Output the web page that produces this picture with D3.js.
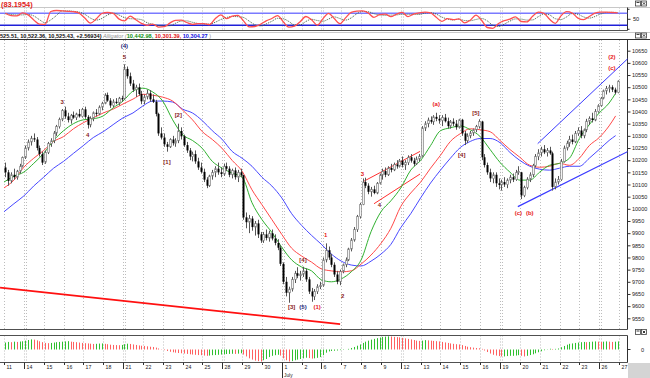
<!DOCTYPE html>
<html><head><meta charset="utf-8">
<script src="https://cdn.jsdelivr.net/npm/d3@7"></script>
<style>
html,body{margin:0;padding:0;background:#fff;overflow:hidden;}
svg{display:block;font-family:"Liberation Sans",Arial,sans-serif;}
</style></head><body>
<svg id="c" width="650" height="378"></svg>
<script>
// ---------------- DATA ----------------
const dayLabels = ["11","14","15","16","17","18","21","22","23","24","25","28","29","30","1","2","6","7","8","9","12","13","14","15","16","19","20","21","22","23","26","27"];
const weekStartIdx = [1,6,11,16,20,25,30];
const monthStartIdx = 14;
const monthLabel = "July";
const priceTicks = [9550,9600,9650,9700,9750,9800,9850,9900,9950,10000,10050,10100,10150,10200,10250,10300,10350,10400,10450,10500,10550,10600,10650];

// hourly bars, 7 per day: [open, high, low, close]
const ohlc = [
// Jun 11
[10170,10190,10130,10150],[10150,10160,10095,10115],[10115,10150,10105,10140],[10140,10165,10120,10130],[10130,10160,10120,10155],[10155,10185,10145,10175],[10175,10215,10170,10211],
// Jun 14
[10212,10260,10205,10250],[10250,10285,10240,10275],[10275,10300,10260,10290],[10290,10310,10275,10285],[10285,10295,10240,10250],[10250,10260,10215,10225],[10225,10235,10180,10190],
// Jun 15
[10192,10240,10185,10232],[10232,10275,10225,10268],[10268,10290,10255,10280],[10280,10320,10270,10312],[10312,10345,10300,10338],[10338,10375,10330,10368],[10368,10410,10360,10405],
// Jun 16
[10405,10420,10370,10380],[10380,10395,10355,10365],[10365,10390,10350,10385],[10385,10400,10370,10375],[10375,10395,10365,10390],[10390,10410,10375,10380],[10380,10415,10375,10409],
// Jun 17
[10409,10420,10370,10378],[10378,10385,10330,10345],[10345,10380,10335,10372],[10372,10400,10360,10395],[10395,10410,10380,10390],[10390,10425,10385,10418],[10418,10440,10405,10434],
// Jun 18
[10434,10475,10430,10468],[10468,10478,10440,10445],[10445,10455,10415,10425],[10425,10450,10418,10440],[10440,10455,10430,10435],[10435,10460,10425,10455],[10455,10465,10440,10450],
// Jun 21
[10452,10594,10450,10575],[10575,10585,10535,10545],[10545,10560,10505,10515],[10515,10530,10480,10490],[10490,10510,10460,10500],[10500,10515,10465,10472],[10472,10485,10430,10442],
// Jun 22
[10442,10470,10430,10460],[10460,10490,10450,10475],[10475,10488,10440,10450],[10450,10470,10435,10440],[10440,10448,10380,10390],[10390,10395,10300,10310],[10310,10335,10285,10293],
// Jun 23
[10293,10310,10255,10265],[10265,10275,10235,10255],[10255,10290,10250,10285],[10285,10300,10260,10270],[10270,10290,10255,10280],[10280,10350,10270,10320],[10320,10335,10285,10298],
// Jun 24
[10298,10305,10255,10262],[10262,10275,10230,10240],[10240,10250,10200,10215],[10215,10235,10195,10225],[10225,10240,10185,10195],[10195,10210,10160,10170],[10170,10190,10145,10152],
// Jun 25
[10152,10165,10110,10120],[10120,10130,10085,10095],[10095,10140,10090,10135],[10135,10160,10120,10150],[10150,10175,10130,10165],[10165,10190,10140,10150],[10150,10170,10130,10143],
// Jun 28
[10143,10185,10135,10175],[10175,10190,10155,10165],[10165,10175,10130,10140],[10140,10165,10125,10158],[10158,10170,10120,10130],[10130,10160,10110,10150],[10150,10165,10130,10138],
// Jun 29
[10138,10140,9955,9965],[9965,9985,9920,9945],[9945,9975,9900,9960],[9960,9970,9910,9925],[9925,9950,9890,9940],[9940,9955,9880,9895],[9895,9905,9860,9870],
// Jun 30
[9870,9905,9860,9895],[9895,9915,9870,9880],[9880,9910,9865,9900],[9900,9915,9870,9878],[9878,9895,9850,9860],[9860,9875,9830,9840],[9840,9850,9765,9774],
// Jul 1
[9774,9780,9690,9700],[9700,9720,9640,9655],[9655,9680,9614,9670],[9670,9720,9660,9710],[9710,9745,9695,9735],[9735,9760,9715,9725],[9725,9745,9705,9732],
// Jul 2
[9732,9762,9720,9745],[9745,9755,9700,9710],[9710,9720,9650,9660],[9660,9675,9618,9640],[9640,9670,9625,9660],[9660,9690,9650,9680],[9680,9700,9670,9686],
// Jul 6
[9686,9800,9680,9790],[9790,9858,9780,9830],[9830,9845,9790,9800],[9800,9815,9760,9770],[9770,9780,9720,9730],[9730,9745,9690,9700],[9700,9750,9686,9743],
// Jul 7
[9743,9775,9735,9770],[9770,9800,9760,9790],[9790,9840,9785,9835],[9835,9880,9825,9872],[9872,9925,9865,9915],[9915,9975,9905,9968],[9968,10025,9960,10018],
// Jul 8
[10018,10125,10015,10110],[10110,10128,10085,10095],[10095,10105,10060,10070],[10070,10090,10050,10080],[10080,10095,10060,10065],[10065,10110,10060,10105],[10105,10145,10100,10139],
// Jul 9
[10139,10165,10120,10155],[10155,10170,10130,10140],[10140,10175,10135,10168],[10168,10185,10150,10160],[10160,10190,10155,10182],[10182,10200,10165,10175],[10175,10205,10170,10198],
// Jul 12
[10198,10215,10170,10180],[10180,10200,10160,10190],[10190,10220,10180,10212],[10212,10225,10190,10198],[10198,10210,10175,10185],[10185,10215,10180,10205],[10205,10225,10195,10216],
// Jul 13
[10216,10340,10212,10332],[10332,10360,10320,10350],[10350,10375,10335,10365],[10365,10380,10350,10358],[10358,10385,10345,10378],[10378,10395,10360,10370],[10370,10385,10350,10363],
// Jul 14
[10363,10385,10340,10375],[10375,10390,10355,10360],[10360,10375,10330,10340],[10340,10365,10330,10358],[10358,10372,10340,10350],[10350,10365,10325,10335],[10335,10370,10330,10366],
// Jul 15
[10366,10370,10300,10310],[10310,10320,10262,10280],[10280,10310,10270,10300],[10300,10320,10290,10312],[10312,10330,10300,10325],[10325,10345,10315,10338],[10338,10368,10330,10359],
// Jul 16
[10359,10362,10200,10212],[10212,10225,10170,10180],[10180,10190,10140,10150],[10150,10165,10110,10125],[10125,10150,10105,10140],[10140,10150,10090,10105],[10105,10125,10080,10098],
// Jul 19
[10098,10120,10075,10110],[10110,10130,10090,10100],[10100,10125,10085,10118],[10118,10140,10105,10130],[10130,10145,10110,10120],[10120,10160,10115,10150],[10150,10175,10140,10154],
// Jul 20
[10150,10152,10040,10055],[10055,10095,10048,10088],[10088,10130,10080,10122],[10122,10150,10110,10140],[10140,10185,10130,10178],[10178,10225,10170,10215],[10215,10245,10200,10230],
// Jul 21
[10230,10255,10215,10245],[10245,10262,10225,10232],[10232,10250,10215,10240],[10240,10255,10222,10228],[10228,10235,10075,10090],[10090,10125,10080,10110],[10110,10135,10100,10120],
// Jul 22
[10120,10205,10115,10195],[10195,10260,10190,10250],[10250,10280,10240,10270],[10270,10300,10255,10285],[10285,10305,10265,10275],[10275,10320,10270,10310],[10310,10335,10300,10322],
// Jul 23
[10322,10340,10290,10300],[10300,10330,10290,10325],[10325,10370,10315,10360],[10360,10380,10345,10372],[10372,10395,10355,10365],[10365,10410,10360,10400],[10400,10430,10395,10424],
// Jul 26
[10424,10460,10420,10455],[10455,10490,10450,10485],[10485,10505,10470,10495],[10495,10510,10478,10500],[10500,10508,10480,10490],[10490,10498,10470,10478],[10478,10528,10475,10525]
];

// Alligator lines, one reading every half day
const jaw = [9988,10021,10053,10094,10130,10167,10195,10228,10260,10293,10317,10346,10374,10394,10423,10443,10443,10439,10410,10394,10362,10321,10285,10236,10208,10175,10130,10094,10045,9980,9932,9891,9854,9814,9785,9769,9765,9785,9814,9854,9923,9980,10045,10106,10159,10208,10252,10277,10289,10289,10272,10232,10199,10175,10163,10159,10167,10175,10175,10208,10244,10281,10301];
const teeth = [10086,10118,10171,10208,10240,10277,10297,10329,10354,10374,10394,10410,10431,10451,10471,10467,10459,10443,10406,10366,10317,10285,10248,10199,10155,10078,10017,9956,9895,9838,9806,9781,9753,9745,9741,9745,9773,9810,9858,9920,10010,10065,10110,10167,10220,10277,10309,10329,10325,10317,10281,10244,10212,10179,10171,10175,10187,10179,10208,10260,10293,10341,10382];
const lips = [10110,10134,10151,10187,10228,10281,10321,10350,10366,10370,10382,10415,10443,10484,10496,10480,10443,10366,10305,10281,10248,10195,10167,10147,10130,10025,9956,9903,9842,9790,9761,9745,9708,9700,9712,9741,9790,9906,9988,10033,10086,10159,10199,10260,10321,10333,10341,10325,10297,10244,10191,10151,10118,10118,10151,10179,10187,10208,10289,10346,10394,10435,10475];

// Stochastic oscillator (top pane), one reading every two bars
const stochK = [80,68,67,82,72,47,26,25,89,94,92,90,88,81,56,31,51,79,84,80,52,42,66,48,30,20,26,11,13,31,45,46,34,25,28,28,23,53,72,53,66,70,42,12,14,25,42,54,68,38,11,16,38,64,48,21,52,80,54,28,57,85,91,92,82,60,73,76,63,76,85,63,76,82,86,82,60,40,53,48,52,32,45,71,45,9,5,29,43,51,62,39,37,65,86,80,50,30,67,88,81,56,48,64,81,86,86,84,82];
const stochD = [78,74,72,72,74,67,48,33,47,69,92,92,90,86,75,56,46,54,71,81,72,58,53,52,48,33,25,19,17,18,30,41,42,35,29,27,26,35,49,59,64,63,59,41,23,17,27,40,55,53,39,22,22,39,50,44,40,51,62,54,46,57,78,89,88,78,72,70,71,72,75,75,75,74,81,83,76,61,51,47,51,44,43,49,54,42,20,14,26,41,52,51,46,47,63,77,72,53,49,62,79,75,62,56,64,77,84,85,84];
const stochLevels = [80, 20];

// Awesome-oscillator histogram (bottom pane), one per bar
const ao = [
55,60,58,62,60,63,65, 70,75,80,78,72,65,58, 52,50,52,55,58,60,62, 64,66,62,60,58,55,52,
50,48,46,44,45,47,48, 45,42,38,36,35,34,36, 42,46,44,40,36,32,30, 28,25,22,20,15,8,2,
-5,-12,-18,-22,-25,-28,-30, -32,-35,-38,-40,-42,-44,-45, -48,-50,-48,-45,-44,-42,-40, -38,-36,-35,-34,-35,-33,-30,
-40,-55,-70,-80,-88,-92,-95, -85,-75,-60,-50,-45,-42,-48, -70,-85,-95,-92,-85,-80,-75, -70,-65,-68,-72,-70,-66,-60,
-45,-25,-15,-12,-10,-8,-5, -3,0,5,12,20,30,40, 52,62,70,78,84,90,95, 100,102,104,103,100,98,96,
92,88,84,80,75,70,68, 70,74,72,70,68,66,64, 60,56,52,48,45,42,40, 35,28,22,18,15,12,10,
5,-8,-20,-32,-42,-48,-52, -55,-55,-52,-50,-50,-48,-45, -50,-55,-50,-44,-38,-30,-22, -14,-6,2,6,4,5,8,
18,28,38,45,48,52,55, 58,60,58,60,62,64,62, 60,62,64,62,60,62,64
];

// Trend lines drawn on the chart: [day-position, price] pairs
const trendRed = [[-0.2, 9676],[16.94, 9526]];
const channelRedUpper = [[18.15, 10114],[20.97, 10236]];
const channelRedLower = [[18.65, 10021],[20.97, 10143]];
const channelBlueUpper = [[26.9, 10268],[31.45, 10618]];
const channelBlueLower = [[25.9, 10009],[31.45, 10236]];

// Wave-count annotations: bar index, price, text, colour group
const waveLabels = [
 {bar:42, price:10669, text:"(4)", c:"navy"},
 {bar:42, price:10624, text:"5", c:"dark"},
 {bar:20, price:10439, text:"3", c:"dark"},
 {bar:29, price:10304, text:"4", c:"dark"},
 {bar:61, price:10386, text:"[2]", c:"dark"},
 {bar:57, price:10193, text:"[1]", c:"dark"},
 {bar:105, price:9790, text:"[4]", c:"dark"},
 {bar:101, price:9597, text:"[3]", c:"dark"},
 {bar:105, price:9597, text:"(5)", c:"navy"},
 {bar:110, price:9597, text:"(1)", c:"red"},
 {bar:113, price:9893, text:"1", c:"red"},
 {bar:119, price:9643, text:"2", c:"dark"},
 {bar:126, price:10143, text:"3", c:"red"},
 {bar:132, price:10016, text:"4", c:"dark"},
 {bar:152, price:10431, text:"(a)", c:"red"},
 {bar:161, price:10222, text:"[4]", c:"dark"},
 {bar:166, price:10394, text:"[5]", c:"dark"},
 {bar:181, price:9983, text:"(c)", c:"red"},
 {bar:185, price:9983, text:"(b)", c:"red"},
 {bar:214, price:10579, text:"(c)", c:"red"},
 {bar:214, price:10624, text:"(2)", c:"red"}
];

const headerQuote = "525.51, 10,522.36, 10,525.43, +2.56934)";
const alligatorVals = ["10,442.98,", "10,301.39,", "10,304.27"];
const stochLabel = "(83.1954)";

// ---------------- DRAWING ----------------
const W = 650, H = 378;
const AXX = 627.5;             // right axis line
const BPD = 7;                 // bars per day
const svg = d3.select("#c");

const x = d3.scaleLinear().domain([0, 31]).range([4, 4 + 31 * 19.84]);
const y = d3.scaleLinear().domain([9550, 10650]).range([318.3, 50.7]);
const yS = d3.scaleLinear().domain([0, 100]).range([29.3, 9.3]);
const yA = d3.scaleLinear().domain([-95, 95]).range([361.5, 337.5]);
const tBar = i => Math.floor(i / BPD) + ((i % BPD) + 0.5) / BPD;
const lastT = tBar(ohlc.length - 1) - 0.1;
const tHalf = i => (i === jaw.length - 1 ? lastT : i * 0.5);

const panes = {
  top:  {y0: 7.5, y1: 31},
  main: {y0: 40, y1: 329},
  ao:   {y0: 335.5, y1: 362}
};
const defs = svg.append("defs");
Object.entries(panes).forEach(([k, p]) => {
  defs.append("clipPath").attr("id", "clip-" + k)
    .append("rect").attr("x", 0).attr("y", p.y0).attr("width", AXX).attr("height", p.y1 - p.y0);
});

// vertical dotted day grid in each pane
Object.entries(panes).forEach(([k, p]) => {
  const g = svg.append("g").attr("clip-path", `url(#clip-${k})`);
  d3.range(0, 32).forEach(d => {
    const xs = [Math.round(x(d)) + 0.5];
    if (weekStartIdx.includes(d) || d === monthStartIdx) xs.push(Math.round(x(d)) + 2.5);
    xs.forEach(xx => g.append("line").attr("x1", xx).attr("x2", xx).attr("y1", p.y0).attr("y2", p.y1)
      .attr("stroke", "#bcbcbc").attr("stroke-width", 1).attr("stroke-dasharray", "1,2"));
  });
});

// pane borders
const hline = (yy, col, x2 = AXX) => svg.append("line").attr("x1", 0).attr("x2", x2).attr("y1", yy).attr("y2", yy).attr("stroke", col).attr("stroke-width", 1);
hline(7.5, "#c8c8c8", W);
hline(30.5, "#505050");
hline(32.5, "#c8c8c8", W);
hline(39.5, "#303030", W);
hline(329.5, "#505050");
hline(335.5, "#505050");
hline(362.5, "#505050");
svg.append("line").attr("x1", AXX).attr("x2", AXX).attr("y1", 7.5).attr("y2", 30.5).attr("stroke", "#303030");
svg.append("line").attr("x1", AXX).attr("x2", AXX).attr("y1", 40).attr("y2", 329.5).attr("stroke", "#303030");
svg.append("line").attr("x1", AXX).attr("x2", AXX).attr("y1", 335.5).attr("y2", 362.5).attr("stroke", "#303030");

// ---------- top pane: stochastic ----------
const gTop = svg.append("g").attr("clip-path", "url(#clip-top)");
gTop.append("line").attr("x1", 0).attr("x2", AXX).attr("y1", yS(stochLevels[0])).attr("y2", yS(stochLevels[0]))
  .attr("stroke", "#7a7aff").attr("stroke-width", 1.6);
gTop.append("line").attr("x1", 0).attr("x2", AXX).attr("y1", yS(stochLevels[1])).attr("y2", yS(stochLevels[1]))
  .attr("stroke", "#2020d8").attr("stroke-width", 1.4);
const sLine = d3.line().x((d, j) => x(tBar(2 * j))).y(d => yS(d)).curve(d3.curveMonotoneX);
gTop.append("path").attr("d", sLine(stochD)).attr("fill", "none").attr("stroke", "#406040").attr("stroke-width", 1).attr("stroke-dasharray", "1,1");
gTop.append("path").attr("d", sLine(stochK)).attr("fill", "none").attr("stroke", "#ff5050").attr("stroke-width", 1.3);
svg.append("text").attr("x", 1).attr("y", 6.5).attr("font-size", 7.4).attr("font-weight", "bold").attr("fill", "#e02020").text(stochLabel);
// stoch axis
svg.append("line").attr("x1", AXX).attr("x2", AXX + 3).attr("y1", yS(50)).attr("y2", yS(50)).attr("stroke", "#303030");
[yS(100), yS(0)].forEach(v => svg.append("line").attr("x1", AXX).attr("x2", AXX + 2).attr("y1", v).attr("y2", v).attr("stroke", "#303030"));
svg.append("text").attr("x", 633).attr("y", yS(50) + 2).attr("font-size", 5.6).attr("fill", "#202020").text("50");

// header
const hdr = svg.append("text").attr("x", 0).attr("y", 37.6).attr("font-size", 5.6).attr("font-weight", "bold");
hdr.append("tspan").attr("fill", "#101010").text(headerQuote + " ");
hdr.append("tspan").attr("fill", "#909090").attr("font-weight", "normal").attr("font-style", "italic").text("Alligator (");
const algCols = ["#109010", "#e01010", "#1010e0"];
alligatorVals.forEach((v, i) => hdr.append("tspan").attr("fill", algCols[i]).text(v + " "));
hdr.append("tspan").attr("fill", "#909090").attr("font-weight", "normal").text(")");

// window buttons
function buttons(yy) {
  const g = svg.append("g").attr("transform", `translate(635,${yy})`);
  g.append("rect").attr("x", 0.5).attr("y", 0.5).attr("width", 5).attr("height", 5).attr("fill", "#fff").attr("stroke", "#404040").attr("stroke-width", 0.8);
  g.append("rect").attr("x", 1.5).attr("y", 1.5).attr("width", 3).attr("height", 1).attr("fill", "#404040");
  g.append("rect").attr("x", 6.5).attr("y", 0.5).attr("width", 5).attr("height", 5).attr("fill", "#fff").attr("stroke", "#404040").attr("stroke-width", 0.8);
  g.append("path").attr("d", "M7.8,1.8L10.2,4.2M10.2,1.8L7.8,4.2").attr("stroke", "#202020").attr("stroke-width", 0.9);
}
buttons(0.5); buttons(32.5); buttons(329);

// ---------- main pane ----------
const gMain = svg.append("g").attr("clip-path", "url(#clip-main)");
// trend lines (behind)
const tl = d3.line().x(d => x(d[0])).y(d => y(d[1]));
gMain.append("path").attr("d", tl(trendRed)).attr("stroke", "#ff1010").attr("stroke-width", 1.8).attr("fill", "none");
gMain.append("path").attr("d", tl(channelRedUpper)).attr("stroke", "#ff3030").attr("stroke-width", 1).attr("fill", "none");
gMain.append("path").attr("d", tl(channelRedLower)).attr("stroke", "#ff3030").attr("stroke-width", 1).attr("fill", "none");
gMain.append("path").attr("d", tl(channelBlueUpper)).attr("stroke", "#3a3aff").attr("stroke-width", 1).attr("fill", "none");
gMain.append("path").attr("d", tl(channelBlueLower)).attr("stroke", "#3a3aff").attr("stroke-width", 1.2).attr("fill", "none");

// alligator
const al = d3.line().x((d, i) => x(tHalf(i))).y(d => y(d)).curve(d3.curveMonotoneX);
gMain.append("path").attr("d", al(jaw)).attr("fill", "none").attr("stroke", "#4848ff").attr("stroke-width", 1);
gMain.append("path").attr("d", al(teeth)).attr("fill", "none").attr("stroke", "#ff4848").attr("stroke-width", 1);
gMain.append("path").attr("d", al(lips)).attr("fill", "none").attr("stroke", "#30b030").attr("stroke-width", 1);

// candles
const gC = gMain.append("g");
ohlc.forEach((b, i) => {
  const cx = Math.round(x(tBar(i))) + 0.5;
  const [o, h, l, c] = b;
  gC.append("line").attr("x1", cx).attr("x2", cx).attr("y1", y(h)).attr("y2", y(l)).attr("stroke", "#555").attr("stroke-width", 1);
  const top = y(Math.max(o, c)), bot = y(Math.min(o, c));
  const hgt = Math.max(1, bot - top);
  if (c >= o) {
    gC.append("rect").attr("x", cx - 0.8).attr("y", top).attr("width", 1.6).attr("height", hgt)
      .attr("fill", "#ffffff").attr("stroke", "#777").attr("stroke-width", 0.7);
  } else {
    gC.append("rect").attr("x", cx - 1).attr("y", top).attr("width", 2).attr("height", hgt).attr("fill", "#000");
  }
});

// wave labels
const labCols = {navy: "#1c1c7a", dark: "#8a1a1a", red: "#e81818"};
waveLabels.forEach(d => {
  gMain.append("text").attr("x", x(tBar(d.bar))).attr("y", y(d.price)).attr("dy", "0.35em")
    .attr("text-anchor", "middle").attr("font-size", 6).attr("font-weight", "bold")
    .attr("fill", labCols[d.c]).text(d.text);
});

// price axis
const yAxis = d3.axisRight(y).tickValues(priceTicks).tickSize(3).tickFormat(d3.format("d"));
const ga = svg.append("g").attr("transform", `translate(${AXX},0)`).call(yAxis);
ga.select(".domain").remove();
ga.selectAll("text").attr("font-size", 5.5).attr("fill", "#202020").attr("x", 4.5)
  .attr("font-family", '"Liberation Sans",Arial,sans-serif');
ga.selectAll("line").attr("stroke", "#303030");

// ---------- AO pane ----------
const gAO = svg.append("g").attr("clip-path", "url(#clip-ao)");
ao.forEach((v, i) => {
  const cx = Math.round(x(tBar(i))) + 0.5;
  const up = i === 0 ? true : v >= ao[i - 1];
  gAO.append("line").attr("x1", cx).attr("x2", cx).attr("y1", yA(0)).attr("y2", yA(v))
    .attr("stroke", up ? "#30c030" : "#ff6060").attr("stroke-width", 1);
});
svg.append("line").attr("x1", AXX).attr("x2", AXX + 3).attr("y1", yA(0)).attr("y2", yA(0)).attr("stroke", "#303030");
svg.append("text").attr("x", 641).attr("y", yA(0) + 2).attr("font-size", 5.6).attr("fill", "#202020").text("0");

// ---------- date axis ----------
const gx = svg.append("g");
d3.range(0, 32).forEach(d => {
  const xx = Math.round(x(d)) + 0.5;
  const big = weekStartIdx.includes(d);
  gx.append("line").attr("x1", xx).attr("x2", xx).attr("y1", 362.5)
    .attr("y2", d === monthStartIdx ? 378 : (big ? 369 : 365)).attr("stroke", "#303030").attr("stroke-width", 1);
  gx.append("text").attr("x", xx + 2).attr("y", 369).attr("font-size", 5.2).attr("fill", "#202020").text(dayLabels[d]);
});
gx.append("text").attr("x", Math.round(x(monthStartIdx)) + 2).attr("y", 376.5).attr("font-size", 4.8).attr("fill", "#202020").text(monthLabel);
svg.append("rect").attr("x", 628).attr("y", 363).attr("width", 22).attr("height", 15).attr("fill", "#d4d4d4");
</script>
</body></html>
